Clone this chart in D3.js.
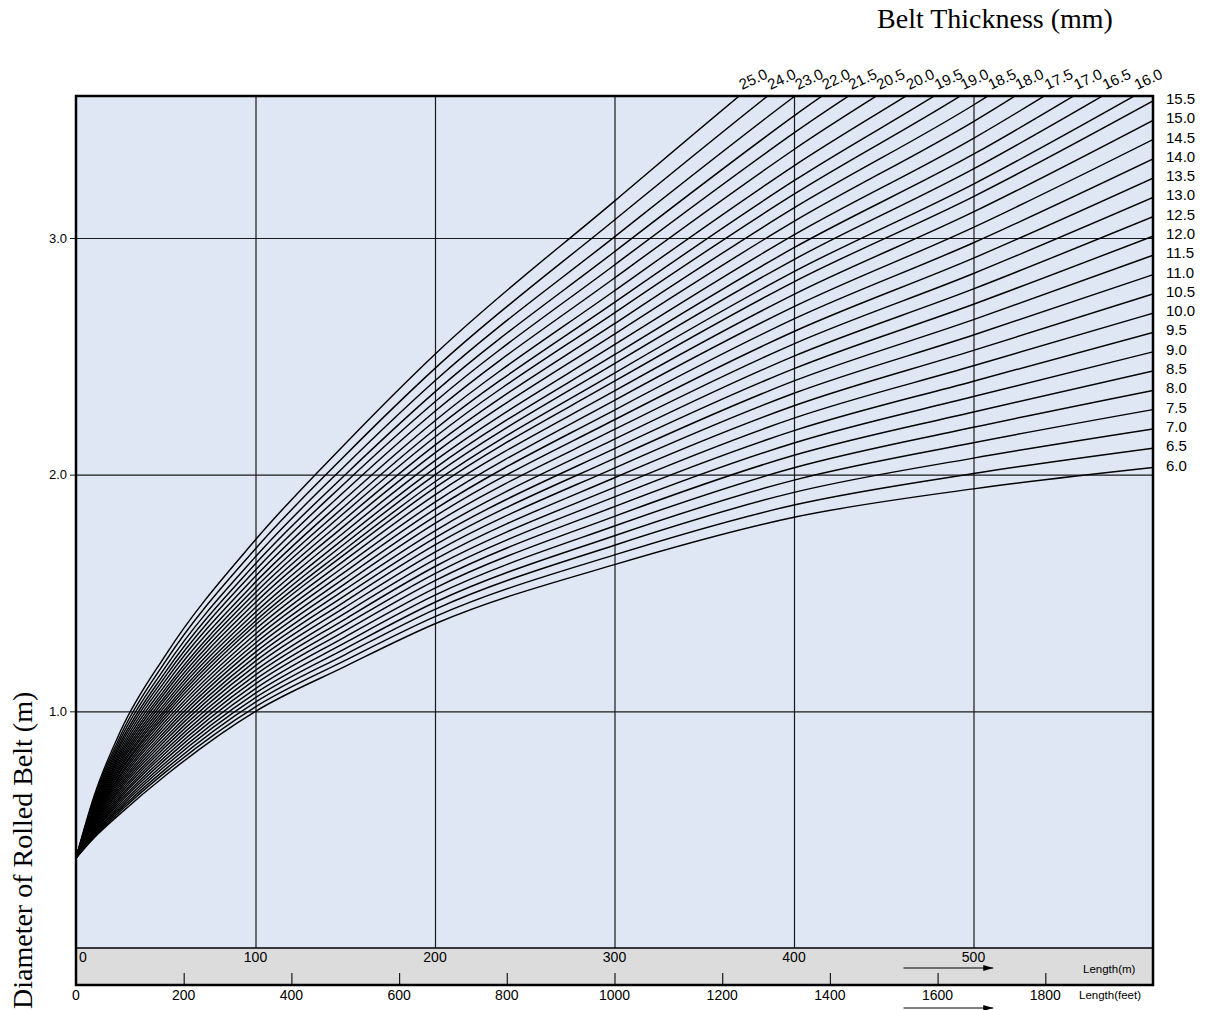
<!DOCTYPE html>
<html>
<head>
<meta charset="utf-8">
<script src="https://cdn.jsdelivr.net/npm/d3@7/dist/d3.min.js"></script>
<style>
  body { margin: 0; background: #fff; }
  svg { display: block; }
  text { font-family: "Liberation Sans", Arial, sans-serif; fill: #000; }
  .serif { font-family: "Liberation Serif", "Times New Roman", serif; }
</style>
</head>
<body>
<svg id="chart" width="1205" height="1010"></svg>
<script>
// ************************************
// Data
// ************************************

// belt length in metres where each curve was read
const lengthsM = [0, 10, 25, 50, 100, 150, 200, 300, 400, 500, 600];

// belt thickness (mm), one curve each
const thicknesses = [6.0, 6.5, 7.0, 7.5, 8.0, 8.5, 9.0, 9.5, 10.0, 10.5, 11.0, 11.5, 12.0, 12.5,
  13.0, 13.5, 14.0, 14.5, 15.0, 15.5, 16.0, 16.5, 17.0, 17.5, 18.0, 18.5, 19.0, 19.5, 20.0,
  20.5, 21.5, 22.0, 23.0, 24.0, 25.0];

// diameter of rolled belt (m), one row per thickness, one value per length above
// (values past 3.6 m are where the curve runs on above the frame)
const diameters = [
  [0.38, 0.465, 0.570, 0.730, 1.000, 1.190, 1.370, 1.620, 1.820, 1.940, 2.030],
  [0.38, 0.470, 0.580, 0.744, 1.019, 1.215, 1.400, 1.661, 1.872, 2.005, 2.112],
  [0.38, 0.475, 0.589, 0.757, 1.039, 1.240, 1.431, 1.702, 1.925, 2.070, 2.193],
  [0.38, 0.479, 0.598, 0.771, 1.058, 1.265, 1.461, 1.742, 1.977, 2.135, 2.275],
  [0.38, 0.484, 0.607, 0.784, 1.077, 1.290, 1.491, 1.783, 2.029, 2.200, 2.356],
  [0.38, 0.489, 0.617, 0.798, 1.096, 1.315, 1.521, 1.824, 2.082, 2.265, 2.438],
  [0.38, 0.493, 0.626, 0.811, 1.116, 1.340, 1.552, 1.865, 2.134, 2.330, 2.519],
  [0.38, 0.497, 0.636, 0.825, 1.135, 1.365, 1.582, 1.906, 2.186, 2.395, 2.601],
  [0.38, 0.502, 0.644, 0.838, 1.154, 1.390, 1.612, 1.946, 2.239, 2.460, 2.682],
  [0.38, 0.507, 0.654, 0.852, 1.173, 1.415, 1.642, 1.987, 2.291, 2.525, 2.764],
  [0.38, 0.512, 0.663, 0.865, 1.193, 1.440, 1.673, 2.028, 2.344, 2.590, 2.845],
  [0.38, 0.516, 0.673, 0.879, 1.212, 1.465, 1.703, 2.069, 2.396, 2.655, 2.927],
  [0.38, 0.521, 0.682, 0.892, 1.231, 1.490, 1.733, 2.110, 2.448, 2.720, 3.008],
  [0.38, 0.526, 0.691, 0.906, 1.250, 1.515, 1.763, 2.150, 2.501, 2.785, 3.090],
  [0.38, 0.531, 0.700, 0.919, 1.270, 1.540, 1.794, 2.191, 2.553, 2.850, 3.171],
  [0.38, 0.535, 0.710, 0.933, 1.289, 1.565, 1.824, 2.232, 2.605, 2.915, 3.253],
  [0.38, 0.540, 0.719, 0.947, 1.308, 1.590, 1.854, 2.273, 2.658, 2.980, 3.334],
  [0.38, 0.545, 0.729, 0.960, 1.327, 1.615, 1.884, 2.314, 2.710, 3.045, 3.416],
  [0.38, 0.549, 0.737, 0.974, 1.347, 1.640, 1.915, 2.354, 2.762, 3.110, 3.497],
  [0.38, 0.553, 0.747, 0.987, 1.366, 1.665, 1.945, 2.395, 2.815, 3.175, 3.579],
  [0.38, 0.557, 0.754, 0.999, 1.382, 1.686, 1.970, 2.429, 2.858, 3.228, 3.645],
  [0.38, 0.562, 0.764, 1.011, 1.400, 1.710, 1.999, 2.469, 2.909, 3.292, 3.725],
  [0.38, 0.566, 0.772, 1.025, 1.419, 1.734, 2.028, 2.507, 2.959, 3.354, 3.803],
  [0.38, 0.571, 0.782, 1.038, 1.439, 1.760, 2.059, 2.549, 3.013, 3.421, 3.887],
  [0.38, 0.576, 0.792, 1.053, 1.460, 1.787, 2.092, 2.594, 3.070, 3.492, 3.976],
  [0.38, 0.582, 0.802, 1.067, 1.481, 1.814, 2.125, 2.638, 3.127, 3.562, 4.064],
  [0.38, 0.587, 0.813, 1.083, 1.502, 1.842, 2.159, 2.684, 3.185, 3.635, 4.156],
  [0.38, 0.591, 0.823, 1.097, 1.523, 1.869, 2.192, 2.728, 3.242, 3.705, 4.244],
  [0.38, 0.597, 0.834, 1.114, 1.546, 1.899, 2.228, 2.777, 3.305, 3.783, 4.341],
  [0.38, 0.603, 0.846, 1.132, 1.571, 1.932, 2.268, 2.831, 3.374, 3.869, 4.449],
  [0.38, 0.609, 0.859, 1.150, 1.597, 1.966, 2.308, 2.886, 3.444, 3.956, 4.558],
  [0.38, 0.616, 0.871, 1.168, 1.624, 2.000, 2.350, 2.942, 3.516, 4.046, 4.671],
  [0.38, 0.623, 0.886, 1.189, 1.653, 2.039, 2.397, 3.005, 3.597, 4.146, 4.796],
  [0.38, 0.632, 0.901, 1.213, 1.687, 2.082, 2.449, 3.076, 3.688, 4.259, 4.938],
  [0.38, 0.640, 0.920, 1.239, 1.725, 2.131, 2.509, 3.156, 3.791, 4.387, 5.098]
];

// tick labels
const meterTicks = [0, 100, 200, 300, 400, 500];
const feetTicks = [0, 200, 400, 600, 800, 1000, 1200, 1400, 1600, 1800];
const diameterTicks = [1.0, 2.0, 3.0];

// ************************************
// Layout
// ************************************

const svg = d3.select("#chart");
const margin = {top: 96, right: 52, bottom: 62, left: 76};
const width = 1205 - margin.left - margin.right;     // plot width
const height = 948 - margin.top;                       // curve area height
const bandH = 37;                                      // grey length band under the plot
const g = svg.append("g").attr("transform", `translate(${margin.left},${margin.top})`);

// Scales
const x = d3.scaleLinear().domain([0, 600]).range([0, width]);
const xFeet = d3.scaleLinear().domain([0, 2000]).range([0, width]);
const y = d3.scaleLinear().domain([0, 3.6]).range([height, 0]);

// Backgrounds
g.append("rect").attr("width", width).attr("height", height).attr("fill", "#e0e7f4");
g.append("rect").attr("y", height).attr("width", width).attr("height", bandH).attr("fill", "#dcdcdc");

// Gridlines
g.append("g")
    .attr("class", "grid")
    .attr("transform", `translate(0,${height})`)
    .call(d3.axisBottom(x)
        .tickValues(meterTicks.filter(d => d > 0))
        .tickSize(-height)
        .tickFormat(""))
    .call(a => a.select(".domain").remove())
    .call(a => a.selectAll("line").attr("stroke", "#1a1a1a").attr("stroke-width", 1.2));

g.append("g")
    .attr("class", "grid")
    .call(d3.axisLeft(y)
        .tickValues(diameterTicks)
        .tickSize(-width)
        .tickFormat(""))
    .call(a => a.select(".domain").remove())
    .call(a => a.selectAll("line").attr("stroke", "#1a1a1a").attr("stroke-width", 1.2));

// Y axis ticks + labels (outside left)
g.append("g")
    .call(d3.axisLeft(y).tickValues(diameterTicks).tickSize(6).tickPadding(3).tickFormat(d3.format(".1f")))
    .call(a => a.select(".domain").remove())
    .call(a => a.selectAll("line").attr("stroke", "#1a1a1a"))
    .call(a => a.selectAll("text").attr("font-size", 13).attr("font-family", "Liberation Sans, Arial, sans-serif"));

// ************************************
// Curves
// ************************************

g.append("clipPath").attr("id", "plotClip")
  .append("rect").attr("width", width).attr("height", height);

const line = d3.line()
    .x((d, i) => x(lengthsM[i]))
    .y(d => y(d))
    .curve(d3.curveMonotoneX);

const curves = g.append("g").attr("clip-path", "url(#plotClip)")
  .selectAll("path")
  .data(diameters)
  .enter().append("path")
    .attr("fill", "none")
    .attr("stroke", "#000")
    .attr("stroke-width", 1.45)
    .attr("d", line);

// Labels: curves leaving through the top get a slanted label, the rest a label on the right
curves.each(function(d, i) {
    const t = thicknesses[i];
    const last = d[d.length - 1];
    if (last <= 3.6) {
        g.append("text")
            .attr("x", width + 13)
            .attr("y", y(last) - 1)
            .attr("dominant-baseline", "middle")
            .attr("font-size", 15)
            .text(t.toFixed(1));
    } else {
        // walk along the drawn path to where it crosses the top edge
        const total = this.getTotalLength();
        let lo = 0, hi = total;
        for (let k = 0; k < 40; k++) {
            const mid = (lo + hi) / 2;
            if (this.getPointAtLength(mid).y > 0) lo = mid; else hi = mid;
        }
        const p = this.getPointAtLength(lo);
        g.append("text")
            .attr("transform", `translate(${p.x + 3},${-6}) rotate(-25)`)
            .attr("font-size", 15)
            .text(t.toFixed(1));
    }
});

// ************************************
// Length band (metres and feet)
// ************************************

const band = g.append("g").attr("transform", `translate(0,${height})`);

band.append("line").attr("x2", width).attr("stroke", "#000").attr("stroke-width", 1.5);

band.selectAll(".mlab")
  .data(meterTicks)
  .enter().append("text")
    .attr("class", "mlab")
    .attr("x", d => d === 0 ? x(d) + 3 : x(d))
    .attr("y", 14)
    .attr("text-anchor", d => d === 0 ? "start" : "middle")
    .attr("font-size", 14)
    .text(d => d);

// feet ticks inside band, labels below
band.append("g")
    .attr("transform", `translate(0,${bandH})`)
    .call(d3.axisTop(xFeet).tickValues(feetTicks.filter(d => d > 0)).tickSize(12).tickFormat(""))
    .call(a => a.select(".domain").remove())
    .call(a => a.selectAll("line").attr("stroke", "#1a1a1a").attr("stroke-width", 1.2));

band.selectAll(".flab")
  .data(feetTicks)
  .enter().append("text")
    .attr("class", "flab")
    .attr("x", d => xFeet(d))
    .attr("y", bandH + 15)
    .attr("text-anchor", "middle")
    .attr("font-size", 14)
    .text(d => d);

band.append("text").attr("x", 1007).attr("y", 25).attr("font-size", 11.5).text("Length(m)");
band.append("text").attr("x", 1003).attr("y", bandH + 14).attr("font-size", 11.5).text("Length(feet)");

// arrows
svg.append("defs").append("marker")
    .attr("id", "arrowHead")
    .attr("viewBox", "0 0 10 6").attr("refX", 10).attr("refY", 3)
    .attr("markerWidth", 14).attr("markerHeight", 6).attr("markerUnits", "userSpaceOnUse")
    .attr("orient", "auto")
  .append("path").attr("d", "M0,0L10,3L0,6Z").attr("fill", "#000");

[20, bandH + 23].forEach(yy => {
    band.append("line")
        .attr("x1", x(461)).attr("x2", x(511))
        .attr("y1", yy).attr("y2", yy)
        .attr("stroke", "#000").attr("stroke-width", 1)
        .attr("marker-end", "url(#arrowHead)");
});

// Frame
g.append("rect")
    .attr("width", width).attr("height", height + bandH)
    .attr("fill", "none").attr("stroke", "#000").attr("stroke-width", 2.5);

// ************************************
// Titles
// ************************************

svg.append("text")
    .attr("class", "serif")
    .attr("x", 995).attr("y", 28)
    .attr("text-anchor", "middle")
    .attr("font-size", 28)
    .text("Belt Thickness (mm)");

svg.append("text")
    .attr("class", "serif")
    .attr("transform", "translate(32,1009) rotate(-90)")
    .attr("font-size", 28)
    .text("Diameter of Rolled Belt (m)");
</script>
</body>
</html>
